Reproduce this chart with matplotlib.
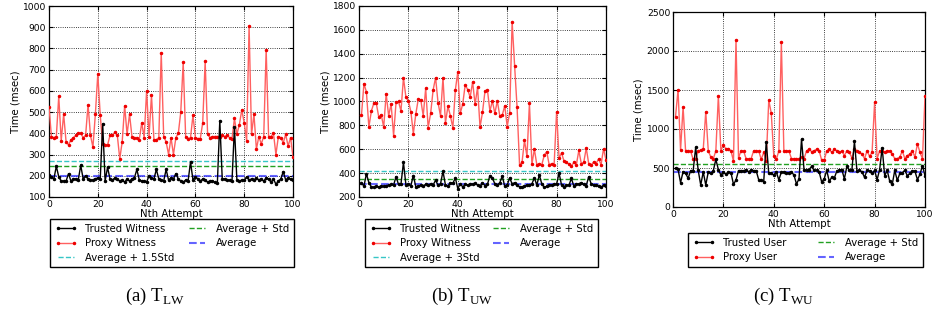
import numpy as np
import matplotlib
matplotlib.use("Agg")
from matplotlib import pyplot as plt

plt.rcParams["font.family"] = "DejaVu Sans"
plt.rcParams["mathtext.fontset"] = "custom"
plt.rcParams["mathtext.rm"] = "Liberation Serif"

# ------------------------------------------------------------------ data
# (a) T_LW, attempts 0..100
lw_trusted = [205, 195, 185, 245, 195, 175, 175, 175, 210, 175,
              185, 185, 180, 250, 185, 200, 185, 180, 180, 185,
              190, 185, 445, 175, 240, 185, 180, 190, 185, 175,
              180, 170, 185, 175, 185, 190, 230, 180, 175, 175,
              170, 200, 190, 185, 230, 185, 180, 175, 230, 180,
              190, 185, 210, 185, 175, 170, 180, 175, 265, 180,
              195, 185, 175, 185, 180, 170, 175, 175, 170, 165,
              460, 185, 185, 180, 180, 175, 430, 180, 175, 180,
              180, 195, 180, 185, 180, 190, 180, 185, 175, 190,
              185, 170, 185, 160, 175, 185, 220, 180, 190, 185, 180]
lw_proxy = [525, 385, 380, 385, 575, 365, 490, 360, 345, 370,
            380, 390, 400, 400, 380, 390, 535, 390, 335, 490,
            680, 485, 350, 345, 345, 390, 390, 405, 390, 280,
            360, 530, 395, 490, 385, 380, 380, 370, 450, 380,
            600, 385, 580, 370, 370, 380, 780, 385, 360, 300,
            380, 300, 380, 400, 500, 735, 385, 375, 380, 485,
            380, 375, 375, 450, 740, 395, 380, 385, 385, 385,
            385, 390, 385, 390, 380, 375, 470, 395, 440, 510,
            450, 365, 905, 395, 490, 325, 385, 350, 385, 795,
            385, 385, 400, 300, 385, 380, 355, 395, 340, 380, 290]
lw_avg, lw_std = 197, 47

# (b) T_UW, attempts 1..100
uw_trusted = [320, 290, 395, 320, 285, 280, 290, 285, 290, 290,
              295, 300, 305, 300, 370, 305, 310, 490, 300, 305,
              295, 380, 285, 290, 300, 295, 305, 300, 310, 300,
              340, 300, 310, 415, 300, 290, 320, 315, 360, 270,
              310, 285, 305, 300, 310, 305, 315, 300, 290, 320,
              295, 305, 380, 360, 310, 300, 320, 375, 290, 300,
              360, 310, 320, 300, 285, 285, 290, 300, 300, 310,
              360, 300, 385, 310, 280, 290, 300, 300, 305, 310,
              400, 300, 285, 300, 300, 355, 290, 310, 310, 320,
              305, 295, 370, 310, 300, 300, 290, 280, 300, 295]
uw_proxy = [885, 1150, 1080, 785, 920, 985, 985, 870, 890, 785,
            1065, 880, 980, 715, 995, 1000, 920, 1200, 1035, 1005,
            915, 730, 895, 1020, 1015, 880, 1110, 780, 900, 1095,
            1200, 990, 880, 1200, 820, 960, 880, 780, 1095, 1250,
            900, 980, 1140, 1100, 1035, 1165, 975, 1120, 785, 910,
            1085, 1095, 920, 1005, 900, 1005, 880, 885, 965, 790,
            905, 1670, 1300, 950, 470, 490, 675, 540, 985, 475,
            600, 470, 480, 470, 550, 580, 470, 480, 470, 915,
            525, 570, 500, 490, 475, 460, 490, 470, 590, 480,
            490, 610, 480, 465, 495, 480, 520, 470, 605, 510]
uw_avg, uw_std = 312, 36

# (c) T_WU, attempts 1..100
wu_trusted = [496, 483, 312, 453, 431, 367, 466, 466, 765, 470,
              282, 450, 282, 450, 430, 466, 611, 480, 410, 450,
              420, 450, 440, 290, 346, 466, 466, 466, 475, 450,
              475, 466, 466, 350, 346, 325, 838, 430, 430, 410,
              450, 346, 450, 450, 440, 440, 450, 410, 295, 359,
              870, 480, 470, 480, 520, 470, 470, 450, 320, 360,
              470, 330, 380, 370, 460, 470, 480, 360, 520, 470,
              480, 840, 460, 470, 450, 380, 470, 460, 430, 470,
              350, 480, 760, 400, 470, 330, 290, 470, 340, 430,
              440, 470, 400, 430, 460, 460, 350, 420, 530, 400]
wu_proxy = [1160, 1500, 730, 1285, 715, 715, 715, 610, 620, 720,
            730, 740, 1220, 720, 640, 620, 720, 1425, 720, 800,
            740, 750, 720, 590, 2140, 630, 720, 720, 620, 615,
            620, 720, 720, 720, 610, 700, 590, 1370, 1200, 650,
            610, 720, 2110, 720, 720, 720, 620, 620, 620, 620,
            640, 620, 720, 740, 710, 720, 740, 720, 600, 600,
            720, 740, 700, 740, 720, 700, 720, 660, 720, 700,
            630, 740, 720, 700, 680, 620, 720, 650, 700, 1340,
            620, 720, 720, 700, 720, 720, 680, 620, 620, 640,
            720, 620, 660, 680, 720, 640, 810, 700, 620, 1420]
wu_avg, wu_std = 444, 107

W, H = 937, 313
fig = plt.figure(figsize=(W / 100, H / 100), dpi=100)
fig.patch.set_facecolor("white")


def fx(px):
    return px / W


def fy(py):
    return 1 - py / H


def panel(rect, xs, trusted, proxy, hlines, names, yticks, legend_rect, caption, cap_x):
    l, t, r, b = rect
    ax = fig.add_axes([fx(l), fy(b), fx(r - l), fy(t) - fy(b)])
    ax.plot(xs, trusted, color="k", lw=1.0, marker=".", ms=3, label=names[0], zorder=4)
    ax.plot(xs, proxy, color="#ff6060", lw=1.0, marker=".", ms=3, mfc="#ee0000",
            mec="#ee0000", label=names[1], zorder=3)
    for val, col, lbl, lw_, al in hlines:
        ax.axhline(val, color=col, ls="--", lw=lw_, alpha=al, label=lbl, zorder=2)
    ax.set_xlim(0, 100)
    ax.set_ylim(yticks[0], yticks[-1])
    ax.set_xticks(range(0, 101, 20))
    ax.set_yticks(yticks)
    ax.grid(True, ls=":", color="k", lw=0.6)
    ax.tick_params(direction="in", top=True, right=True, labelsize=6.6, pad=2,
                   length=3)
    for s in ax.spines.values():
        s.set_linewidth(0.9)
    ax.set_xlabel("Nth Attempt", fontsize=7.3, labelpad=0)
    ax.set_ylabel("Time (msec)", fontsize=7.3, labelpad=2)

    hs, ls = ax.get_legend_handles_labels()
    ll, lt, lr, lb = legend_rect
    leg = ax.legend(hs, ls, ncol=2, loc="upper left", mode="expand",
                    bbox_to_anchor=(fx(ll), fy(lb), fx(lr - ll), fy(lt) - fy(lb)),
                    bbox_transform=fig.transFigure, borderaxespad=0,
                    fontsize=7.3, fancybox=False, framealpha=1, numpoints=2,
                    handlelength=2.2, borderpad=0.45, labelspacing=0.45)
    leg.get_frame().set_edgecolor("k")
    leg.get_frame().set_linewidth(1.0)
    fig.text(fx(cap_x), fy(296), caption, ha="center", va="center",
             fontsize=13.5, family="Liberation Serif")
    return ax


x_a = np.arange(0, len(lw_proxy))
x_bc = np.arange(1, 101)

panel((49, 6, 293, 197), x_a, lw_trusted, lw_proxy,
      [(lw_avg + 1.5 * lw_std, "#20c0c0", "Average + 1.5Std", 1.0, 0.9),
       (lw_avg + lw_std, "#22a022", "Average + Std", 1.0, 1.0),
       (lw_avg, "#3030ff", "Average", 1.5, 0.75)],
      ["Trusted Witness", "Proxy Witness"], list(range(100, 1001, 100)),
      (50, 219, 294, 267), r"(a) T$_{\mathrm{LW}}$", 155)

panel((359, 6, 606, 197), x_bc, uw_trusted, uw_proxy,
      [(uw_avg + 3 * uw_std, "#20c0c0", "Average + 3Std", 1.0, 0.9),
       (uw_avg + uw_std, "#22a022", "Average + Std", 1.0, 1.0),
       (uw_avg, "#3030ff", "Average", 1.5, 0.75)],
      ["Trusted Witness", "Proxy Witness"], list(range(200, 1801, 200)),
      (365, 219, 598, 267), r"(b) T$_{\mathrm{UW}}$", 462)

panel((673, 12, 925, 207), x_bc, wu_trusted, wu_proxy,
      [(wu_avg + wu_std, "#22a022", "Average + Std", 1.0, 1.0),
       (wu_avg, "#3030ff", "Average", 1.5, 0.75)],
      ["Trusted User", "Proxy User"], list(range(0, 2501, 500)),
      (688, 233, 923, 267), r"(c) T$_{\mathrm{WU}}$", 783)

fig.savefig("out.png", dpi=100, facecolor="white")
